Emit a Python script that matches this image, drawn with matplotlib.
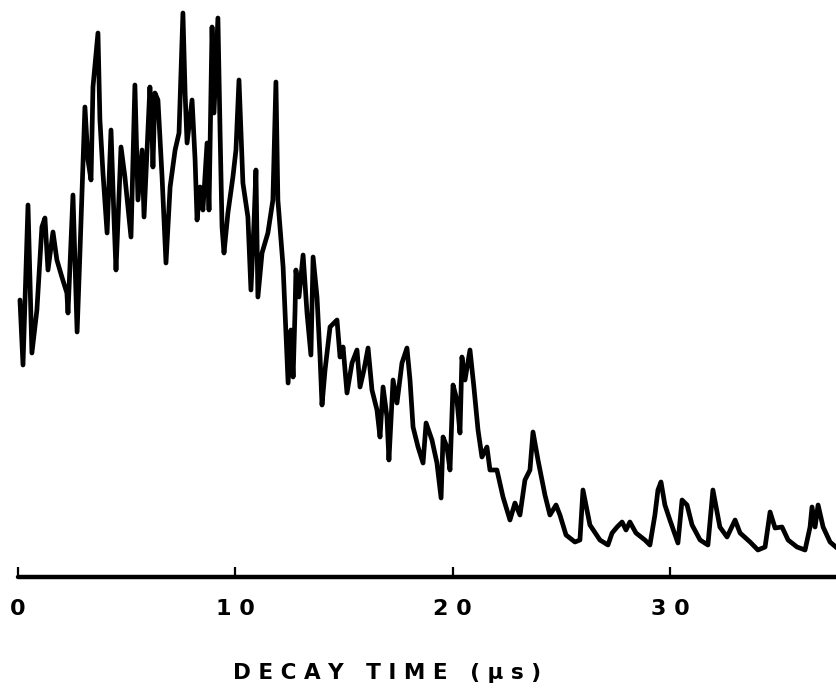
import matplotlib
matplotlib.use('Agg')
import matplotlib.pyplot as plt

# decay time (us) and signal (arbitrary units)
decay_time = [
    0.09, 0.23, 0.46, 0.64, 0.87, 1.10, 1.24, 1.38, 1.61, 1.79,
    2.02, 2.25, 2.30, 2.53, 2.72, 2.85, 3.08, 3.22, 3.36, 3.45,
    3.68, 3.77, 3.91, 4.10, 4.28, 4.42, 4.51, 4.74, 4.92, 5.20,
    5.38, 5.52, 5.71, 5.80, 6.07, 6.17, 6.21, 6.30, 6.44, 6.63,
    6.81, 7.00, 7.23, 7.41, 7.59, 7.69, 7.78, 8.01, 8.15, 8.24,
    8.38, 8.51, 8.70, 8.79, 8.93, 9.02, 9.20, 9.30, 9.39, 9.48,
    9.66, 9.89, 10.03, 10.17, 10.35, 10.58, 10.72, 10.86, 10.95, 11.04,
    11.23, 11.50, 11.73, 11.87, 11.96, 12.20, 12.29, 12.43, 12.56, 12.66,
    12.75, 12.79, 12.93, 13.12, 13.30, 13.48, 13.58, 13.76, 13.90, 13.99,
    14.13, 14.36, 14.68, 14.82, 14.96, 15.14, 15.37, 15.60, 15.74, 15.92,
    16.11, 16.29, 16.52, 16.66, 16.80, 16.98, 17.07, 17.26, 17.44, 17.67,
    17.90, 18.04, 18.18, 18.41, 18.64, 18.78, 19.05, 19.28, 19.47, 19.56,
    19.74, 19.88, 20.02, 20.20, 20.34, 20.43, 20.57, 20.80, 20.98, 21.17,
    21.35, 21.58, 21.72, 22.04, 22.32, 22.64, 22.87, 23.10, 23.33, 23.56,
    23.70, 23.93, 24.25, 24.48, 24.76, 24.94, 25.22, 25.63, 25.86, 26.00,
    26.32, 26.78, 27.15, 27.34, 27.57, 27.80, 27.98, 28.16, 28.44, 28.85,
    29.08, 29.31, 29.45, 29.59, 29.77, 30.00, 30.37, 30.56, 30.79, 31.02,
    31.39, 31.75, 31.98, 32.30, 32.63, 33.00, 33.23, 33.69, 34.05, 34.38,
    34.61, 34.84, 35.16, 35.44, 35.85, 36.22, 36.45, 36.54, 36.68, 36.82,
    37.05, 37.37, 37.69,
]
signal = [
    277, 212, 372, 224, 267, 350, 359, 307, 345, 317,
    300, 284, 264, 382, 245, 324, 470, 417, 397, 490,
    544, 457, 404, 344, 447, 357, 307, 430, 400, 340,
    492, 377, 427, 360, 490, 444, 410, 484, 477, 400,
    314, 390, 427, 444, 564, 484, 434, 477, 417, 357,
    390, 367, 434, 367, 550, 464, 559, 444, 350, 324,
    364, 400, 427, 497, 394, 360, 287, 354, 407, 280,
    324, 344, 377, 495, 377, 310, 264, 194, 247, 200,
    267, 307, 280, 322, 264, 222, 320, 280, 220, 172,
    207, 250, 257, 220, 230, 184, 214, 227, 190, 207,
    229, 187, 167, 140, 190, 160, 117, 197, 174, 214,
    229, 197, 150, 130, 114, 154, 137, 114, 79, 140,
    130, 107, 192, 177, 144, 220, 197, 227, 190, 147,
    120, 130, 107, 107, 80, 57, 74, 62, 97, 107,
    145, 117, 82, 62, 72, 62, 42, 35, 37, 87,
    52, 37, 32, 44, 50, 55, 47, 55, 44, 37,
    32, 62, 87, 95, 72, 57, 34, 77, 72, 52,
    37, 32, 87, 50, 40, 57, 44, 35, 27, 30,
    65, 49, 50, 37, 30, 27, 50, 70, 50, 72,
    50, 35, 29,
]
tick_values = [0, 10, 20, 30]
tick_labels = ["0", "1 0", "2 0", "3 0"]

fig = plt.figure(figsize=(8.37, 6.92), dpi=100)
ax = fig.add_axes([18 / 837, 115 / 692, 819 / 837, 577 / 692])

ax.plot(decay_time, signal, color='black', linewidth=3.4,
        solid_joinstyle='round', solid_capstyle='round', clip_on=False)

ax.set_xlim(0, 37.69)
ax.set_ylim(0, 577)

for side in ['top', 'right', 'left']:
    ax.spines[side].set_visible(False)
ax.spines['bottom'].set_linewidth(3.2)
ax.spines['bottom'].set_capstyle('round')

ax.set_yticks([])
ax.set_xticks(tick_values)
ax.set_xticklabels(tick_labels, fontsize=16, fontweight='bold',
                   family='DejaVu Sans')
ax.tick_params(axis='x', direction='in', length=7, width=1.6, pad=16)

fig.text(387 / 837, 19 / 692, "D E C A Y   T I M E   ( µ s )",
         ha='center', va='center', fontsize=15.5, fontweight='bold',
         family='DejaVu Sans')

fig.savefig("out.png", dpi=100)
